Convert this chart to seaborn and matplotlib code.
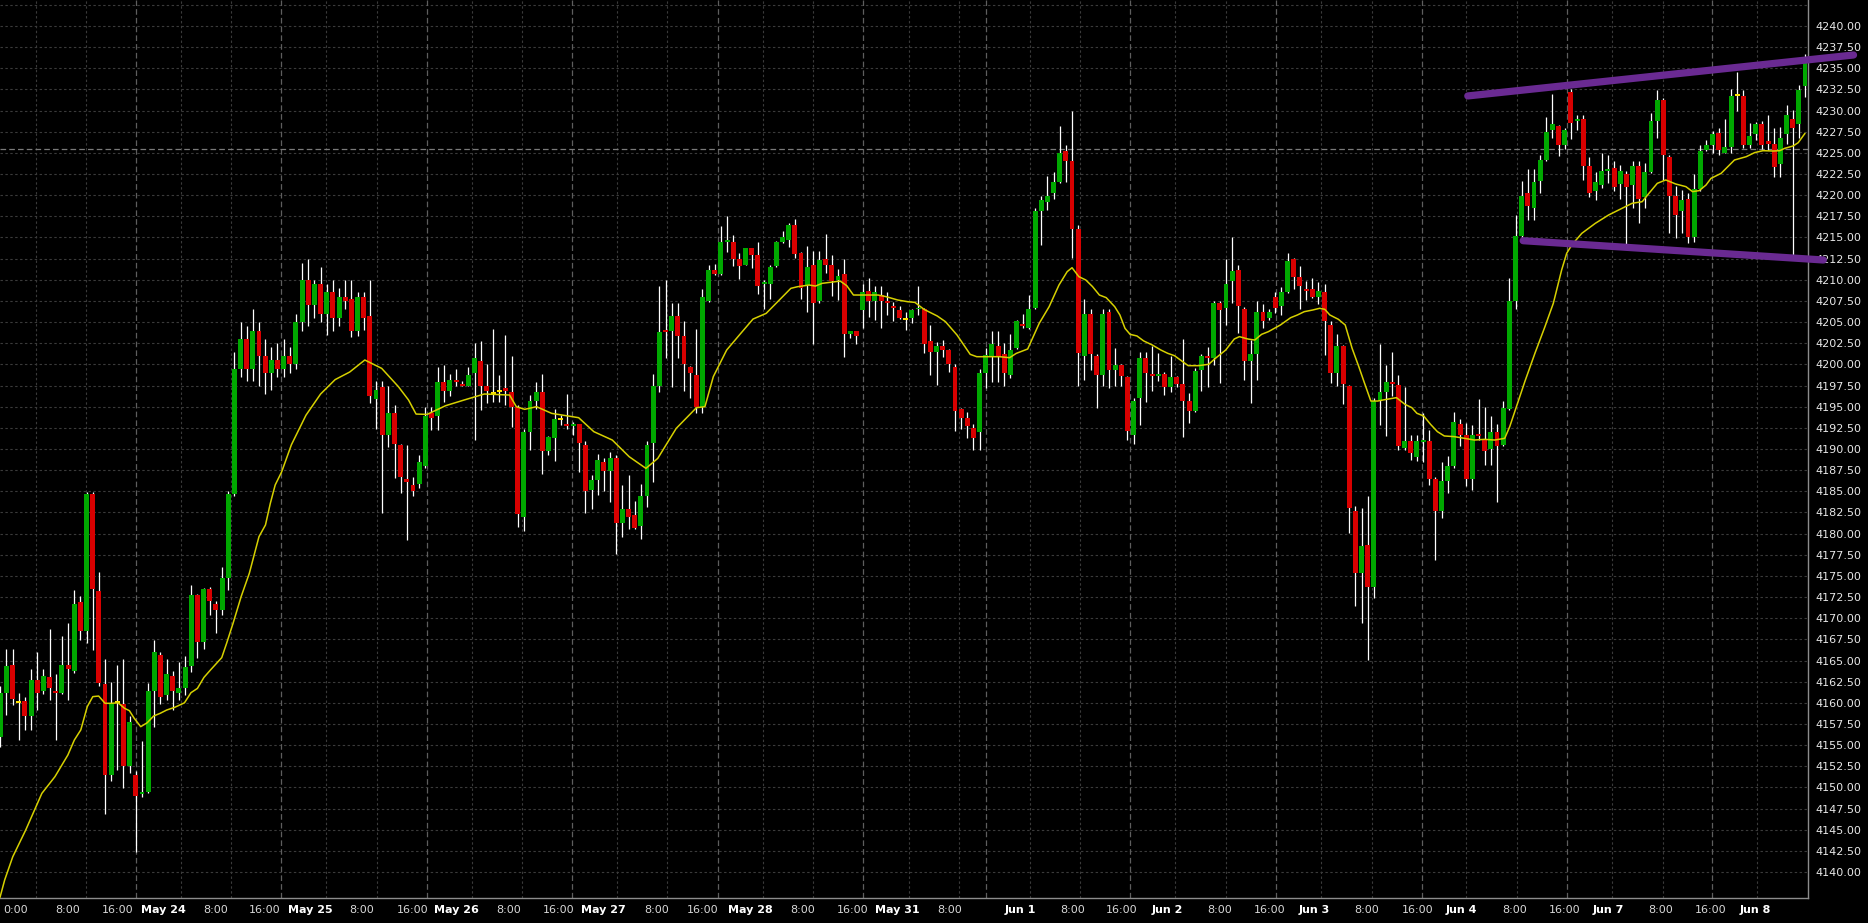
import numpy as np
import pandas as pd
import matplotlib
matplotlib.use("Agg")
import matplotlib.pyplot as plt
import seaborn as sns

# ---- ES bars, (open, high, low, close), left to right ----
bars_may21_24 = [
    (4156.0, 4162.0, 4154.8, 4161.2), (4161.2, 4166.4, 4158.6, 4164.3), (4164.5, 4166.4, 4159.7, 4160.5),
    (4160.1, 4161.2, 4155.6, 4160.1), (4160.2, 4160.7, 4156.8, 4158.4), (4158.4, 4164.0, 4156.8, 4162.7),
    (4162.7, 4166.0, 4159.1, 4161.2), (4161.4, 4164.0, 4161.0, 4163.2), (4163.0, 4168.7, 4160.3, 4161.8),
    (4161.4, 4163.4, 4155.6, 4161.2), (4161.2, 4167.9, 4161.0, 4164.5), (4164.5, 4169.4, 4160.3, 4164.0),
    (4163.8, 4173.3, 4163.5, 4171.7), (4171.9, 4172.6, 4167.4, 4168.5), (4168.5, 4184.9, 4167.1, 4184.7),
    (4184.7, 4184.9, 4166.2, 4173.5), (4173.2, 4175.5, 4162.0, 4162.3), (4162.2, 4165.2, 4146.9, 4151.5),
    (4151.5, 4162.5, 4150.7, 4159.9), (4160.1, 4164.5, 4152.1, 4160.1), (4159.9, 4165.2, 4149.9, 4152.5),
    (4152.5, 4158.4, 4151.7, 4157.7), (4151.5, 4151.9, 4142.4, 4149.0), (4149.2, 4155.5, 4148.9, 4149.5),
    (4149.5, 4162.3, 4149.3, 4161.4), (4161.4, 4167.4, 4157.2, 4166.0), (4165.7, 4166.0, 4159.9, 4160.7),
    (4160.9, 4165.2, 4160.3, 4163.4), (4163.2, 4163.8, 4159.2, 4161.4), (4161.2, 4164.8, 4160.3, 4161.7),
    (4161.8, 4165.5, 4160.9, 4164.2), (4164.3, 4173.9, 4163.7, 4172.7), (4172.7, 4172.9, 4165.3, 4167.2),
    (4167.2, 4173.6, 4166.4, 4173.5), (4173.5, 4173.7, 4170.4, 4172.0), (4171.7, 4172.0, 4168.2, 4171.0),
    (4171.0, 4176.0, 4170.4, 4174.8), (4174.8, 4185.0, 4173.3, 4184.7), (4184.7, 4201.5, 4184.5, 4199.5),
]
bars_may25 = [
    (4199.5, 4205.0, 4198.5, 4203.0), (4203.0, 4204.5, 4198.0, 4199.5), (4199.5, 4206.5, 4198.0, 4204.0),
    (4204.0, 4205.0, 4197.5, 4201.0), (4201.0, 4203.0, 4196.5, 4199.0), (4199.0, 4202.0, 4197.0, 4200.5),
    (4200.5, 4202.5, 4198.5, 4199.5), (4199.5, 4203.0, 4198.5, 4201.0), (4201.0, 4202.0, 4199.0, 4200.0),
    (4200.0, 4206.0, 4199.5, 4205.0), (4205.0, 4212.0, 4204.0, 4210.0), (4210.0, 4212.5, 4204.5, 4207.0),
    (4207.0, 4210.0, 4205.5, 4209.5), (4209.5, 4211.5, 4205.0, 4206.0), (4206.0, 4209.5, 4203.5, 4208.5),
    (4208.5, 4210.0, 4204.0, 4205.5), (4205.5, 4209.0, 4204.5, 4208.0), (4208.0, 4210.0, 4206.5, 4207.5),
]
bars_may26_28 = [
    (4207.7, 4210.0, 4203.2, 4204.0), (4204.0, 4208.6, 4203.3, 4208.0), (4208.0, 4208.6, 4204.1, 4205.5),
    (4205.7, 4210.0, 4195.4, 4196.3), (4195.9, 4198.0, 4192.4, 4197.0), (4197.3, 4198.0, 4182.4, 4191.7),
    (4191.7, 4197.4, 4190.2, 4194.3), (4194.3, 4195.2, 4186.6, 4190.6), (4190.5, 4190.6, 4184.8, 4186.7),
    (4186.5, 4190.5, 4179.2, 4186.1), (4185.7, 4186.7, 4184.4, 4185.0), (4185.9, 4189.3, 4185.4, 4188.5),
    (4188.0, 4195.0, 4187.8, 4193.9), (4194.2, 4195.0, 4192.2, 4193.7), (4193.9, 4199.7, 4192.2, 4197.9),
    (4197.9, 4199.9, 4195.6, 4196.8), (4196.8, 4198.9, 4196.3, 4198.2), (4198.2, 4199.4, 4197.4, 4197.9),
    (4197.7, 4198.0, 4197.4, 4197.5), (4197.5, 4199.7, 4197.4, 4198.7), (4199.0, 4202.5, 4191.1, 4200.7),
    (4200.4, 4202.8, 4194.6, 4197.4), (4197.4, 4200.1, 4195.4, 4196.8), (4196.6, 4204.2, 4195.6, 4196.6),
    (4196.9, 4198.7, 4195.6, 4196.9), (4197.2, 4203.5, 4195.2, 4196.8), (4196.7, 4201.0, 4192.6, 4195.0),
    (4195.0, 4195.2, 4180.8, 4182.3), (4182.0, 4192.4, 4180.3, 4192.0), (4192.0, 4196.4, 4189.9, 4195.7),
    (4195.7, 4197.9, 4194.7, 4196.7), (4196.7, 4198.9, 4187.1, 4189.8), (4189.8, 4191.5, 4189.3, 4191.4),
    (4191.3, 4194.7, 4188.6, 4193.6), (4193.5, 4194.0, 4192.8, 4193.5), (4192.9, 4196.5, 4192.4, 4192.7),
    (4192.7, 4193.2, 4191.6, 4192.9), (4192.9, 4193.0, 4187.3, 4190.7), (4190.5, 4190.9, 4182.4, 4185.0),
    (4185.2, 4186.9, 4182.9, 4186.3), (4186.3, 4189.4, 4184.6, 4188.7), (4188.5, 4188.9, 4185.0, 4187.4),
    (4187.4, 4189.7, 4183.7, 4188.9), (4188.9, 4189.3, 4177.6, 4181.3), (4181.3, 4185.7, 4179.6, 4182.9),
    (4182.9, 4186.9, 4180.6, 4182.0), (4182.2, 4183.8, 4180.6, 4180.7), (4180.9, 4185.9, 4179.4, 4184.4),
    (4184.4, 4190.9, 4183.1, 4190.5), (4190.7, 4198.9, 4186.1, 4197.4), (4197.4, 4209.3, 4196.7, 4203.8),
    (4203.9, 4210.0, 4200.7, 4203.8), (4204.0, 4207.3, 4197.3, 4205.7), (4205.7, 4207.3, 4200.7, 4203.3),
    (4203.3, 4205.1, 4196.8, 4200.0), (4199.7, 4199.8, 4196.0, 4199.0), (4198.7, 4204.2, 4194.2, 4195.0),
    (4195.0, 4208.9, 4194.2, 4208.0), (4207.5, 4211.8, 4207.4, 4211.2), (4211.2, 4211.9, 4210.6, 4210.7),
    (4210.7, 4216.3, 4210.6, 4214.5),
]
bars_may28_jun1 = [
    (4214.5, 4217.5, 4213.3, 4214.7), (4214.5, 4215.3, 4211.6, 4212.5), (4212.5, 4213.2, 4210.1, 4211.6),
    (4211.8, 4213.8, 4211.7, 4213.7), (4213.7, 4213.8, 4211.4, 4212.9), (4212.9, 4214.5, 4208.3, 4209.3),
    (4209.5, 4210.0, 4206.6, 4209.7), (4209.5, 4211.8, 4207.7, 4211.5), (4211.6, 4214.6, 4211.5, 4214.5),
    (4214.5, 4215.8, 4214.4, 4215.0), (4214.7, 4216.7, 4213.9, 4216.5), (4216.5, 4217.2, 4212.6, 4213.0),
    (4213.2, 4213.3, 4207.7, 4209.0), (4209.4, 4214.0, 4206.2, 4211.5), (4211.8, 4213.4, 4202.4, 4207.3),
    (4207.5, 4213.4, 4207.2, 4212.3), (4212.5, 4215.4, 4210.8, 4211.8), (4211.8, 4212.9, 4208.1, 4209.8),
    (4210.0, 4211.3, 4207.6, 4210.5), (4210.7, 4212.5, 4200.9, 4203.6), (4203.6, 4204.0, 4203.1, 4203.9),
    (4203.9, 4204.0, 4202.4, 4203.3), (4206.4, 4209.5, 4204.3, 4208.5), (4208.7, 4210.2, 4205.6, 4207.5),
    (4207.5, 4209.3, 4205.2, 4208.5), (4208.2, 4209.3, 4204.3, 4207.5), (4207.5, 4208.6, 4205.8, 4207.3),
    (4206.9, 4207.4, 4205.1, 4206.7), (4206.4, 4206.9, 4205.4, 4205.5), (4205.4, 4206.2, 4204.1, 4205.4),
    (4205.5, 4206.6, 4204.9, 4206.4), (4206.5, 4209.3, 4205.8, 4206.7), (4206.6, 4206.7, 4201.4, 4202.4),
    (4202.8, 4204.7, 4198.7, 4201.5), (4201.5, 4202.7, 4197.6, 4202.2), (4202.2, 4202.9, 4200.9, 4201.7),
    (4201.7, 4201.8, 4199.1, 4200.0), (4199.7, 4200.0, 4192.1, 4194.5), (4194.7, 4194.8, 4192.4, 4193.7),
    (4193.7, 4194.4, 4191.3, 4192.7), (4192.5, 4192.9, 4189.9, 4191.3), (4192.0, 4199.4, 4189.9, 4199.0),
    (4199.0, 4201.9, 4197.2, 4201.1), (4201.0, 4203.9, 4197.9, 4202.4), (4202.2, 4203.9, 4197.9, 4200.9),
    (4201.2, 4202.5, 4197.4, 4199.0), (4198.8, 4203.6, 4198.4, 4201.7), (4201.9, 4205.3, 4201.8, 4205.1),
    (4204.7, 4206.0, 4204.3, 4204.5), (4204.3, 4208.2, 4204.2, 4206.6), (4206.7, 4218.5, 4206.6, 4218.1),
    (4218.1, 4219.9, 4214.1, 4219.4), (4219.2, 4222.3, 4218.3, 4219.9), (4220.3, 4222.7, 4219.6, 4221.5),
    (4221.5, 4228.2, 4221.4, 4225.0), (4225.2, 4225.9, 4221.6, 4224.0),
]
bars_jun1_4 = [
    (4224.0, 4230.0, 4212.6, 4216.0), (4216.0, 4216.5, 4197.4, 4201.3), (4201.0, 4207.7, 4198.1, 4206.0),
    (4206.0, 4206.6, 4199.3, 4201.2), (4201.0, 4201.2, 4194.9, 4198.8), (4198.8, 4206.6, 4197.4, 4206.0),
    (4206.2, 4206.6, 4197.2, 4199.3), (4199.3, 4201.9, 4197.4, 4199.9), (4199.9, 4200.1, 4197.4, 4198.6),
    (4198.5, 4198.6, 4191.1, 4192.1), (4191.7, 4196.0, 4190.6, 4195.7), (4196.0, 4201.5, 4192.8, 4200.7),
    (4200.7, 4201.5, 4195.5, 4199.0), (4198.9, 4202.2, 4196.9, 4198.6), (4198.6, 4201.3, 4198.0, 4198.9),
    (4198.9, 4199.1, 4196.4, 4197.3), (4197.3, 4201.0, 4196.7, 4198.5), (4198.5, 4198.6, 4197.3, 4197.7),
    (4197.7, 4203.0, 4191.4, 4195.7), (4195.7, 4196.6, 4193.1, 4194.5), (4194.5, 4199.6, 4194.4, 4199.2),
    (4199.3, 4201.2, 4196.9, 4201.0), (4201.0, 4202.0, 4197.3, 4200.8), (4200.8, 4207.5, 4199.9, 4207.3),
    (4207.3, 4207.5, 4197.8, 4206.4), (4206.7, 4212.5, 4204.6, 4209.5), (4209.8, 4215.0, 4207.3, 4211.0),
    (4211.2, 4211.8, 4203.7, 4206.9), (4206.6, 4206.8, 4198.1, 4200.4), (4200.4, 4202.9, 4195.4, 4201.2),
    (4201.2, 4207.5, 4198.1, 4206.2), (4206.2, 4207.1, 4204.3, 4205.1), (4205.5, 4206.5, 4205.3, 4206.2),
    (4208.0, 4208.6, 4206.1, 4206.7), (4206.9, 4209.2, 4205.8, 4208.5), (4208.5, 4213.2, 4208.4, 4212.2),
    (4212.5, 4212.6, 4208.9, 4210.3), (4210.3, 4211.6, 4206.6, 4209.3), (4208.9, 4209.8, 4207.6, 4208.7),
    (4208.9, 4210.2, 4207.9, 4208.0), (4208.0, 4209.7, 4207.1, 4208.7), (4208.5, 4209.5, 4201.1, 4205.1),
    (4204.7, 4205.1, 4197.8, 4199.0), (4199.0, 4203.6, 4197.4, 4202.2), (4202.2, 4202.3, 4195.3, 4197.7),
    (4197.5, 4197.6, 4180.1, 4183.0), (4182.7, 4183.3, 4171.4, 4175.3), (4175.3, 4183.0, 4169.4, 4178.5),
    (4178.7, 4184.4, 4165.1, 4173.7), (4173.7, 4196.0, 4172.4, 4195.7), (4195.8, 4202.4, 4192.8, 4196.7),
    (4196.7, 4199.9, 4191.5, 4197.9), (4197.9, 4201.5, 4196.3, 4197.7), (4197.6, 4198.8, 4189.9, 4190.3),
    (4190.1, 4197.3, 4189.9, 4191.0), (4191.0, 4191.7, 4188.7, 4189.5), (4189.0, 4191.7, 4188.6, 4191.0),
    (4190.8, 4194.2, 4188.5, 4191.0), (4191.0, 4192.3, 4185.7, 4186.5), (4186.4, 4186.7, 4176.9, 4182.7),
]
bars_jun4_8 = [
    (4182.7, 4188.5, 4181.9, 4186.2), (4186.2, 4189.2, 4184.8, 4188.0), (4188.0, 4194.4, 4187.7, 4193.2),
    (4193.0, 4193.6, 4190.4, 4191.7), (4191.7, 4193.1, 4185.6, 4186.5), (4186.5, 4192.8, 4185.1, 4191.7),
    (4191.7, 4195.9, 4191.1, 4191.5), (4191.1, 4195.0, 4188.1, 4189.8), (4190.0, 4193.9, 4188.1, 4192.0),
    (4192.0, 4193.0, 4183.7, 4190.3), (4190.5, 4195.7, 4190.4, 4194.9), (4194.7, 4210.2, 4194.6, 4207.5),
    (4207.5, 4217.7, 4206.6, 4215.2), (4215.2, 4221.7, 4215.0, 4219.9), (4220.2, 4223.1, 4217.1, 4218.7),
    (4218.5, 4223.1, 4217.1, 4221.5), (4221.7, 4224.8, 4220.2, 4224.2), (4224.2, 4229.2, 4224.0, 4227.5),
    (4227.7, 4232.0, 4226.8, 4228.4), (4228.2, 4228.3, 4224.6, 4225.9), (4225.9, 4228.0, 4225.5, 4227.7),
    (4232.2, 4232.5, 4226.6, 4228.5), (4228.8, 4229.5, 4227.7, 4229.0), (4229.0, 4229.5, 4221.8, 4223.5),
    (4223.5, 4224.5, 4219.8, 4220.3), (4220.5, 4222.7, 4219.4, 4221.5), (4221.2, 4225.0, 4220.9, 4222.8),
    (4222.9, 4224.7, 4221.4, 4223.1), (4223.2, 4224.0, 4220.5, 4221.0), (4221.3, 4223.6, 4219.5, 4222.8),
    (4222.5, 4222.8, 4214.2, 4221.0), (4221.2, 4224.0, 4218.5, 4223.5), (4223.5, 4224.0, 4216.7, 4219.5),
    (4219.8, 4223.8, 4218.5, 4222.7), (4222.7, 4229.7, 4222.6, 4228.8), (4228.8, 4232.4, 4226.8, 4231.3),
    (4231.3, 4231.5, 4221.8, 4224.8), (4224.5, 4224.8, 4215.5, 4219.9), (4219.9, 4221.1, 4214.9, 4217.7),
    (4218.1, 4220.6, 4215.5, 4219.4), (4219.6, 4220.2, 4214.4, 4215.0), (4215.0, 4222.5, 4214.5, 4220.7),
    (4220.7, 4225.9, 4220.5, 4225.2), (4225.3, 4226.5, 4225.2, 4225.9), (4225.9, 4227.6, 4225.0, 4227.2),
    (4227.4, 4227.9, 4224.8, 4225.3), (4225.0, 4229.0, 4225.0, 4225.7), (4225.7, 4232.6, 4225.0, 4231.7),
    (4231.8, 4234.6, 4229.9, 4231.8), (4231.7, 4232.4, 4225.6, 4225.9), (4225.9, 4228.5, 4225.6, 4227.0),
    (4227.2, 4228.7, 4226.5, 4228.4), (4228.4, 4228.8, 4225.5, 4225.9), (4226.4, 4229.5, 4225.3, 4226.1),
    (4226.1, 4227.9, 4222.2, 4223.3), (4223.7, 4228.1, 4222.2, 4226.7), (4227.2, 4230.7, 4226.1, 4229.5),
    (4229.0, 4230.1, 4212.9, 4227.9), (4228.4, 4233.0, 4226.7, 4232.4), (4232.9, 4236.7, 4231.6, 4235.7),
]

# moving average: (bar position, value)
ma_points = [
    (-0.05, 4137.0),
    (0.71, 4139.06), (2.02, 4141.8), (4.13, 4144.97), (6.75, 4149.3), (8.87, 4151.27), (10.97, 4153.83),
    (12.02, 4155.6), (13.07, 4156.8), (14.12, 4159.55), (15.02, 4160.73), (15.97, 4160.8), (17.01, 4159.94),
    (18.07, 4159.94), (19.13, 4160.0), (20.17, 4159.35), (20.96, 4159.07), (21.74, 4158.17), (22.8, 4157.18),
    (23.86, 4157.65), (24.9, 4158.44), (25.96, 4158.76), (27.02, 4159.15), (28.33, 4159.47), (29.9, 4160.0),
    (30.96, 4161.2), (32.0, 4161.7), (33.06, 4163.0), (34.12, 4163.88), (35.95, 4165.34), (36.74, 4167.03),
    (37.79, 4169.4), (39.1, 4172.55), (40.43, 4175.31), (42.0, 4179.64), (43.05, 4181.02), (43.84, 4183.58),
    (44.63, 4185.75), (45.68, 4187.3), (47.26, 4190.5), (49.63, 4194.0), (52.0, 4196.5), (54.36, 4198.2),
    (56.73, 4199.1), (59.18, 4200.52), (61.92, 4199.53), (64.64, 4197.36), (66.28, 4195.79), (67.5, 4194.13),
    (69.3, 4194.09), (72.3, 4195.12), (75.3, 4195.79), (78.58, 4196.5), (82.68, 4196.38), (83.78, 4195.0),
    (85.14, 4194.69), (87.06, 4195.0), (89.52, 4194.21), (93.9, 4193.7), (96.36, 4192.05), (99.36, 4191.06),
    (102.1, 4189.09), (104.82, 4187.71), (106.74, 4188.89), (109.74, 4192.44), (113.02, 4194.88),
    (114.4, 4195.0), (115.76, 4198.55), (117.93, 4201.7), (120.08, 4203.55), (122.21, 4205.36),
    (124.34, 4206.03), (126.49, 4207.61), (128.35, 4208.99), (129.42, 4209.18), (131.3, 4209.38),
    (132.35, 4209.26), (133.43, 4209.58), (136.36, 4209.85), (137.43, 4209.3), (138.51, 4208.2),
    (142.51, 4208.2), (143.84, 4208.0), (145.71, 4207.61), (147.32, 4207.41), (148.49, 4207.33),
    (149.98, 4206.5), (152.12, 4205.72), (153.45, 4205.05), (155.33, 4203.47), (157.46, 4201.19),
    (158.53, 4200.91), (160.13, 4200.91), (162.26, 4200.91), (163.87, 4200.79), (164.94, 4201.3),
    (166.8, 4201.82), (168.67, 4204.85), (170.28, 4206.82), (171.88, 4209.38), (173.21, 4210.96),
    (174.0, 4211.43), (175.11, 4210.37), (176.23, 4209.98), (177.33, 4209.19), (178.44, 4208.2),
    (179.55, 4207.89), (180.93, 4206.82), (181.77, 4205.84), (182.6, 4204.26), (183.43, 4203.55),
    (184.54, 4203.36), (185.64, 4202.77), (187.04, 4202.29), (188.42, 4201.7), (189.53, 4201.31),
    (190.63, 4201.03), (191.74, 4200.44), (192.86, 4199.85), (194.52, 4199.85), (196.18, 4200.01),
    (197.28, 4200.72), (198.95, 4201.7), (200.34, 4203.0), (201.17, 4203.28), (202.55, 4203.0),
    (203.67, 4202.88), (204.77, 4203.55), (205.88, 4203.87), (207.83, 4204.66), (209.49, 4205.52),
    (210.59, 4205.84), (211.7, 4206.23), (213.08, 4206.43), (214.2, 4206.63), (215.03, 4206.51),
    (215.86, 4205.84), (217.24, 4205.33), (218.35, 4204.66), (219.47, 4201.9), (220.56, 4199.73),
    (221.4, 4197.96), (222.51, 4195.67), (223.62, 4195.67), (224.46, 4195.79), (226.67, 4196.07),
    (228.05, 4195.28), (229.16, 4194.89), (229.99, 4194.22), (231.1, 4193.9), (232.2, 4192.92),
    (233.32, 4192.05), (234.44, 4191.54), (236.08, 4191.46), (237.71, 4191.26), (239.34, 4191.06),
    (240.98, 4191.14), (242.61, 4191.06), (244.25, 4191.26), (245.06, 4192.64), (246.14, 4195.0),
    (247.51, 4197.96), (249.15, 4201.31), (250.78, 4204.46), (252.14, 4207.22), (253.49, 4211.16),
    (254.31, 4213.13), (255.13, 4214.11), (256.76, 4215.49), (258.95, 4216.67), (261.12, 4217.66),
    (263.3, 4218.45), (264.93, 4219.04), (266.57, 4219.23), (267.66, 4220.22), (269.02, 4221.4),
    (270.39, 4221.8), (272.02, 4221.32), (273.66, 4221.01), (274.74, 4220.42), (275.83, 4220.54),
    (276.93, 4221.2), (277.74, 4221.99), (279.38, 4222.58), (280.73, 4223.57), (281.55, 4224.16),
    (283.46, 4224.55), (284.82, 4225.03), (286.17, 4225.26), (287.81, 4225.22), (288.9, 4225.26),
    (289.72, 4225.54), (291.08, 4225.82), (291.9, 4226.21), (293.0, 4227.31),
]

# hand-drawn channel (purple) and the last-price line
channel_top = [(238.25, 4231.73), (300.88, 4236.57)]
channel_bottom = [(247.24, 4214.62), (295.98, 4212.34)]
last_price = 4225.5

# x axis: where the labels and vertical grid lines sit (pixels from left edge of plot)
session_grid_px = [136.2, 281.3, 427.2, 572.3, 717.9, 862.9, 985.7, 1129.9, 1275.9, 1421.7, 1567.3, 1712.3]
hour_grid_px = [35.7, 86.2, 180.8, 231.3, 325.9, 377.2, 471.9, 522.3, 617.0, 667.4, 762.5, 812.9, 908.5,
                958.9, 1029.5, 1080.4, 1174.6, 1225.9, 1320.5, 1371.9, 1465.7, 1517.3, 1611.7, 1662.7, 1756.7]
label_px = [15.6, 67.9, 117.4, 163, 215.2, 264.3, 310.3, 361.6, 413, 456.7, 508.9, 558.9, 603.6, 656.3,
            703, 750.4, 802.7, 853.1, 897.3, 950, 1020.1, 1072.8, 1121.9, 1167.4, 1220.1, 1269.2, 1314.7,
            1366.5, 1417.3, 1461, 1514.3, 1564.3, 1608.3, 1661, 1711, 1755]
label_txt = ["0:00", "8:00", "16:00", "May 24", "8:00", "16:00", "May 25", "8:00", "16:00", "May 26",
             "8:00", "16:00", "May 27", "8:00", "16:00", "May 28", "8:00", "16:00", "May 31", "8:00",
             "Jun 1", "8:00", "16:00", "Jun 2", "8:00", "16:00", "Jun 3", "8:00", "16:00", "Jun 4",
             "8:00", "16:00", "Jun 7", "8:00", "16:00", "Jun 8"]

price_ticks = np.arange(4140, 4240.01, 2.5)

# ------------------------------------------------------------------
bars = bars_may21_24 + bars_may25 + bars_may26_28 + bars_may28_jun1 + bars_jun1_4 + bars_jun4_8
df = pd.DataFrame(bars, columns=["open", "high", "low", "close"])
df["x"] = np.arange(len(df))

sns.set_style("dark", rc={"axes.facecolor": "black", "figure.facecolor": "black"})
plt.rcParams["font.family"] = ["DejaVu Sans"]

W, H = 1868, 923
plot_w, plot_h = 1808, 898
fig = plt.figure(figsize=(W / 100, H / 100), dpi=100, facecolor="black")
ax = fig.add_axes([0, (H - plot_h) / H, plot_w / W, plot_h / H])
ax.set_facecolor("black")

# bar spacing in pixels -> x limits so that bar 0 sits at the left edge
step_px = (1805 - 0.3) / (len(df) - 1)
x0 = -0.3 / step_px
x1 = x0 + plot_w / step_px
ax.set_xlim(x0, x1)
ax.set_ylim(4136.93, 4243.07)


def px_to_x(p):
    return x0 + p / step_px


# grid
for v in np.arange(4140, 4242.6, 2.5):
    ax.axhline(v, color="#3a3a3a", lw=0.8, dashes=(2.2, 2.2), zorder=0)
for p in hour_grid_px:
    ax.axvline(px_to_x(p), color="#3a3a3a", lw=0.8, dashes=(2.2, 2.2), zorder=0)
for p in session_grid_px:
    ax.axvline(px_to_x(p), color="#5e5e5e", lw=0.9, dashes=(4.5, 2.5), zorder=0)
ax.axhline(last_price, color="#7a7a7a", lw=0.9, dashes=(4.5, 2.5), zorder=0)

# candles
up = df["close"] > df["open"]
down = df["close"] < df["open"]
doji = df["close"] == df["open"]
ax.vlines(df["x"], df["low"], df["high"], color="white", lw=0.9, zorder=2)
body_lo = df[["open", "close"]].min(axis=1)
body_h = (df["close"] - df["open"]).abs().clip(lower=0.22)
ax.bar(df["x"][up], body_h[up], bottom=body_lo[up], width=0.8, color="#00a800", linewidth=0, zorder=3)
ax.bar(df["x"][down], body_h[down], bottom=body_lo[down], width=0.8, color="#d80000", linewidth=0, zorder=3)
ax.bar(df["x"][doji], 0.25, bottom=body_lo[doji] - 0.125, width=0.8, color="#ffe600", linewidth=0, zorder=3)

# moving average
ma = pd.DataFrame(ma_points, columns=["x", "ma"])
sns.lineplot(data=ma, x="x", y="ma", ax=ax, color="#d6d000", lw=1.1, estimator=None, sort=False, zorder=4)

# channel lines (drawn over the price scale, like the original)
for line in (channel_top, channel_bottom):
    xs, ys = zip(*line)
    ax.plot(xs, ys, color="#6a2a92", lw=5.2, solid_capstyle="round", clip_on=False, zorder=6)

# axes cosmetics
for s in ("top", "left"):
    ax.spines[s].set_visible(False)
for s in ("right", "bottom"):
    ax.spines[s].set_visible(True)
    ax.spines[s].set_color("#8c8c8c")
    ax.spines[s].set_linewidth(1.0)

ax.yaxis.tick_right()
ax.set_yticks(price_ticks)
ax.set_yticklabels([f"{v:.2f}" for v in price_ticks])
ax.tick_params(axis="y", length=0, pad=5, labelsize=8, colors="#e8e8e8")
ax.set_xticks([])
ax.set_xlabel("")
ax.set_ylabel("")
ax.grid(False)

for p, t in zip(label_px, label_txt):
    is_date = ":" not in t
    ax.text(px_to_x(p), -12 / plot_h, t, transform=ax.get_xaxis_transform(),
            ha="center", va="center", fontsize=8,
            fontweight="bold" if is_date else "normal",
            color="white" if is_date else "#d8d8d8")

fig.savefig("out.png", dpi=100, facecolor="black")
